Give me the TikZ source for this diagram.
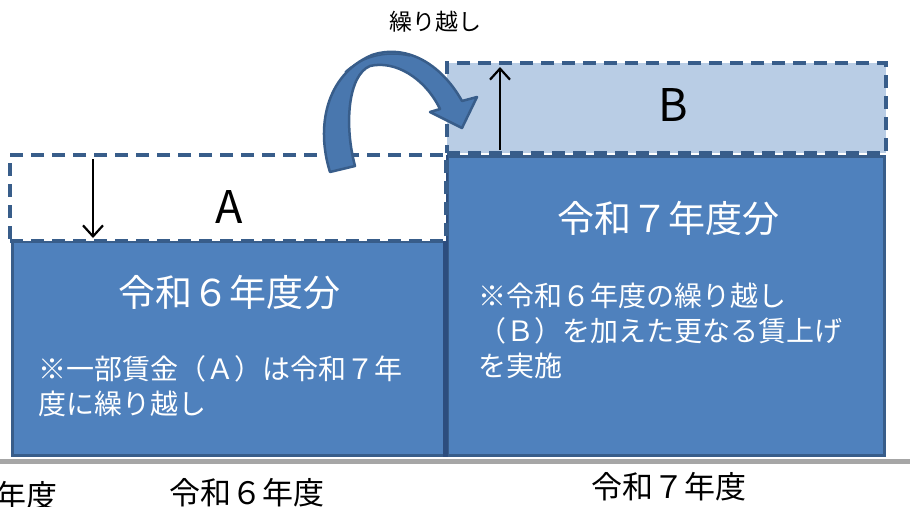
\documentclass[tikz,border=0pt]{standalone}
\usepackage{fontspec}
\newfontfamily\jp{Noto Sans CJK JP}
\definecolor{boxblue}{HTML}{4F81BD}
\definecolor{boxline}{HTML}{385D8A}
\definecolor{darkedge}{HTML}{2C4D7E}
\definecolor{lightblue}{HTML}{B9CDE5}
\definecolor{basegray}{HTML}{A6A6A6}
\usetikzlibrary{arrows.meta}
\tikzset{
  x=1pt, y=-1pt,
  bluebox/.style={draw=boxline, fill=boxblue, line width=3pt, minimum width=#1, inner sep=0pt},
  dashbox/.style={draw=boxline, line width=4pt, dash pattern=on 13pt off 8pt, inner sep=0pt},
  wtxt/.style={text=white, font=\jp, inner sep=0pt},
  btxt/.style={text=black, font=\jp, inner sep=0pt},
  movearrow/.style={-{Straight Barb[length=11pt,width=20pt,line width=2.2pt]}, line width=2.4pt, black},
}
\begin{document}
\begin{tikzpicture}
\useasboundingbox (0,0) rectangle (910,506);
% baseline
\draw[basegray, line width=5pt] (0,461) -- (910,461);
% blue boxes
\node[bluebox=434pt, minimum height=214pt] (box6) at (229,348) {};
\node[bluebox=437pt, minimum height=299pt] (box7) at (665.5,305.5) {};
\draw[darkedge, line width=5pt] (box7.north west) -- (box7.south west);
% dashed boxes
\node[dashbox, fill=white, minimum width=436pt, minimum height=86pt] (boxA) at (228,198) {};
\node[dashbox, fill=lightblue, minimum width=439pt, minimum height=90pt] (boxB) at (666.5,108) {};
% letters
\node[btxt, font=\jp\fontsize{45}{45}\selectfont] (lA) at (229,207) {A};
\node[btxt, font=\jp\fontsize{45}{45}\selectfont] (lB) at (673,105) {B};
% arrows in dashed boxes
\coordinate (a1) at (93,159);
\coordinate (a2) at (93,238);
\draw[movearrow] (a1) -- (a2);
\coordinate (b1) at (500,150);
\coordinate (b2) at (500,67);
\draw[movearrow] (b1) -- (b2);
% curved carry-over arrow
\filldraw[fill=boxblue!92!black, draw=boxline, line width=2.5pt, line join=round]
 (330,172) .. controls (316,128) and (325,75) .. (372,55)
 .. controls (405,44) and (440,62) .. (462,101)
 -- (477,97) -- (462,128) -- (430,112) -- (440,109)
 .. controls (425,78) and (395,60) .. (370,66)
 .. controls (348,75) and (344,125) .. (355,166) -- cycle;
\draw[boxline, line width=1.5pt] (345,72) .. controls (360,58) and (385,50) .. (410,56);
% labels
\node[btxt, font=\jp\fontsize{23}{23}\selectfont] (carry) at (435,22) {繰り越し};
\node[wtxt, font=\jp\fontsize{37}{37}\selectfont] (t6) at (229,292) {令和６年度分};
\node[wtxt, font=\jp\fontsize{28}{35}\selectfont, align=left, anchor=north west] (n6) at (38,355) {※一部賃金（Ａ）は令和７年\\度に繰り越し};
\node[wtxt, font=\jp\fontsize{37}{37}\selectfont] (t7) at (668,218) {令和７年度分};
\node[wtxt, font=\jp\fontsize{28}{35}\selectfont, align=left, anchor=north west] (n7) at (478,283) {※令和６年度の繰り越し\\（Ｂ）を加えた更なる賃上げ\\を実施};
% bottom labels
\node[btxt, font=\jp\fontsize{31}{31}\selectfont] (y5) at (26,496) {年度};
\node[btxt, font=\jp\fontsize{31}{31}\selectfont] (y6) at (247,493) {令和６年度};
\node[btxt, font=\jp\fontsize{31}{31}\selectfont] (y7) at (669,487) {令和７年度};
\end{tikzpicture}
\end{document}
